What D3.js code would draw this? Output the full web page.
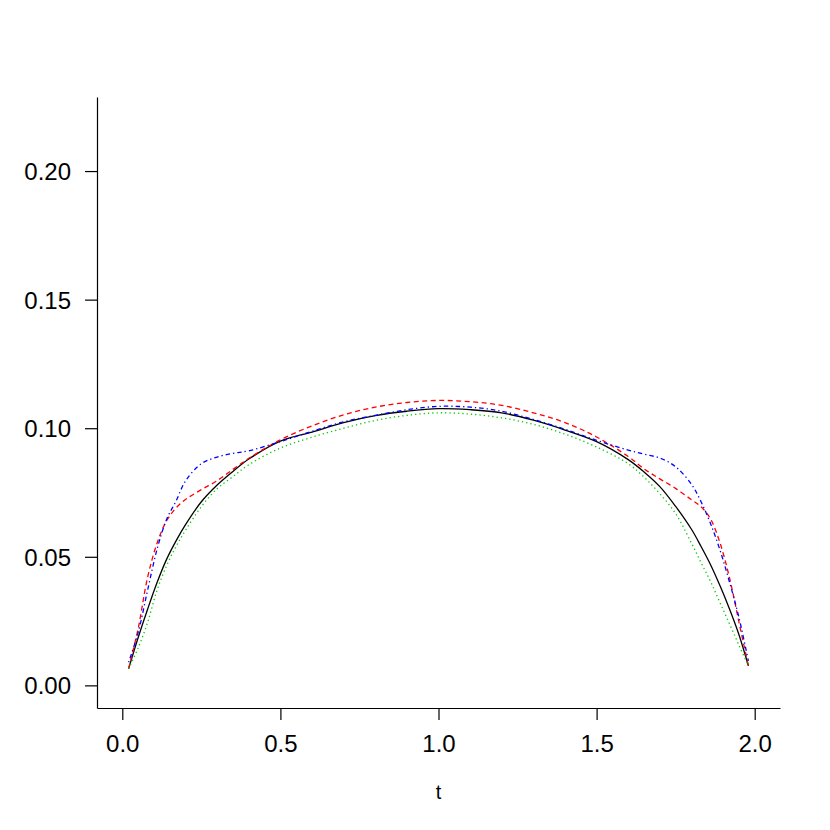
<!DOCTYPE html>
<html>
<head>
<meta charset="utf-8">
<script src="https://cdn.jsdelivr.net/npm/d3@7"></script>
<style>
  body { margin: 0; background: #fff; }
  text { font-family: "Liberation Sans", Arial, Helvetica, sans-serif; fill: #000; }
</style>
</head>
<body>
<div id="chart"></div>
<script>
// grid of t values the curves were read at
var tValues = [0.02, 0.05, 0.08, 0.11, 0.14, 0.17, 0.2, 0.25, 0.3, 0.35, 0.4, 0.5, 0.6, 0.7, 0.8, 0.9, 1.0,
               1.1, 1.2, 1.3, 1.4, 1.5, 1.6, 1.65, 1.7, 1.75, 1.8, 1.83, 1.86, 1.89, 1.92, 1.95, 1.98];

var blackVals = [0.0065, 0.0185, 0.0296, 0.04, 0.049, 0.0562, 0.0625, 0.0714, 0.0779, 0.0832, 0.088, 0.095, 0.0985, 0.1022, 0.1049, 0.1066, 0.1076,
                 0.1072, 0.106, 0.1031, 0.0993, 0.0948, 0.0878, 0.083, 0.0773, 0.0696, 0.0607, 0.0541, 0.047, 0.0388, 0.0298, 0.0198, 0.0076];

var redVals = [0.0065, 0.022, 0.042, 0.0553, 0.064, 0.069, 0.0723, 0.0761, 0.0796, 0.084, 0.0883, 0.0955, 0.1009, 0.1052, 0.1082, 0.11, 0.1108,
               0.1103, 0.1089, 0.106, 0.1022, 0.0966, 0.089, 0.0842, 0.0803, 0.0766, 0.0722, 0.0695, 0.0648, 0.0555, 0.042, 0.0247, 0.0076];

var greenVals = [0.0065, 0.0145, 0.0245, 0.037, 0.0465, 0.054, 0.0603, 0.0695, 0.0765, 0.0812, 0.0858, 0.0923, 0.0965, 0.1, 0.103, 0.105, 0.106,
                 0.1055, 0.104, 0.1015, 0.0977, 0.0927, 0.0862, 0.081, 0.0745, 0.0668, 0.0553, 0.0478, 0.0405, 0.0322, 0.024, 0.0157, 0.0076];

var blueVals = [0.009, 0.0205, 0.037, 0.053, 0.0645, 0.0717, 0.0795, 0.0862, 0.0888, 0.0902, 0.0912, 0.0948, 0.0988, 0.1025, 0.105, 0.1072, 0.1085,
                0.1082, 0.1066, 0.1034, 0.0996, 0.0953, 0.0915, 0.0899, 0.0884, 0.085, 0.0782, 0.0715, 0.063, 0.0527, 0.0403, 0.0265, 0.0095];

var xTicks = [0, 0.5, 1, 1.5, 2];
var yTicks = [0, 0.05, 0.1, 0.15, 0.2];
var xLabel = "t";

var W = 830, H = 830;
var plot = {left: 97, right: 780, top: 97, bottom: 708};

var svg = d3.select("#chart").append("svg")
    .attr("width", W).attr("height", H);
svg.append("rect").attr("width", W).attr("height", H).attr("fill", "#fff");

// R style: limits padded 4% each side
var x = d3.scaleLinear().domain([-0.08, 2.08]).range([plot.left, plot.right]);
var y = d3.scaleLinear().domain([-0.0088, 0.2288]).range([plot.bottom, plot.top]);

var series = [
  {vals: blackVals, color: "#000000", dash: null},
  {vals: redVals,   color: "#FF0000", dash: "5,3.5"},
  {vals: greenVals, color: "#00CD00", dash: "1.3,3"},
  {vals: blueVals,  color: "#0000FF", dash: "1.3,3,4.5,3"}
];

var line = d3.line()
    .x(function(d){ return x(d[0]); })
    .y(function(d){ return y(d[1]); })
    .curve(d3.curveCatmullRom.alpha(0.5));

// black first, the others drawn over it
series.forEach(function(s){
  svg.append("path")
    .datum(tValues.map(function(t, i){ return [t, s.vals[i]]; }))
    .attr("d", line)
    .attr("fill", "none")
    .attr("stroke", s.color)
    .attr("stroke-width", 1.3)
    .attr("stroke-dasharray", s.dash);
});

// axes
var xAxis = svg.append("g")
    .attr("transform", "translate(0," + plot.bottom + ")")
    .call(d3.axisBottom(x).tickValues(xTicks).tickFormat(d3.format(".1f")).tickSize(12).tickSizeOuter(0));

var yAxis = svg.append("g")
    .attr("transform", "translate(" + plot.left + ",0)")
    .call(d3.axisLeft(y).tickValues(yTicks).tickFormat(d3.format(".2f")).tickSize(12).tickSizeOuter(0));

[xAxis, yAxis].forEach(function(g){
  g.select(".domain").attr("stroke", "#000").attr("stroke-width", 1.2);
  g.selectAll(".tick line").attr("stroke", "#000").attr("stroke-width", 1.2);
  g.selectAll(".tick text").attr("font-size", 24).attr("fill", "#000")
    .style("font-family", "'Liberation Sans', Arial, sans-serif");
});

xAxis.selectAll(".tick text").attr("y", 43.5).attr("dy", null);
yAxis.selectAll(".tick text").attr("x", -26).attr("dy", "0.35em");

svg.append("text")
    .attr("x", x(1)).attr("y", 799)
    .attr("text-anchor", "middle")
    .attr("font-size", 20)
    .text(xLabel);
</script>
</body>
</html>
